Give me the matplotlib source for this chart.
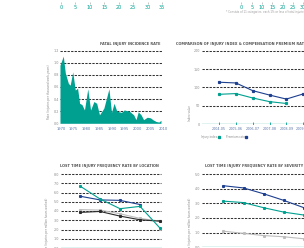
import matplotlib
matplotlib.use("Agg")
import matplotlib.pyplot as plt

W, H = 304, 248
TEAL = "#00a090"
NAVY = "#1d3f8f"
LGREY = "#bdbdbd"
DARK = "#2a2a2a"
GRID = "#333333"
LBL = "#8a8a8a"
XLBL = "#5b74a8"

# --- data -----------------------------------------------------------------
# top strip (bottom edge of two bar charts cut off by the crop)
top_left_ticks = [0, 5, 10, 15, 20, 25, 30, 35]
top_left_last_bar = 0.6
top_right_ticks = [0, 5, 10, 15, 20, 25, 30]
top_right_last_bar = 6.6
footnote = "* Consists of 11 categories, each 1% or less of total injuries"

# fatal injury incidence rate
fatal_years = [1969.6, 1970.9, 1971.7, 1972.9, 1973.6, 1974.6, 1975.6, 1976.5, 1977.3,
               1978.2, 1979.2, 1980.5, 1981.6, 1982.9, 1984.0, 1985.1, 1986.8, 1988.8,
               1989.8, 1990.8, 1991.9, 1993.7, 1994.8, 1996.8, 1998.5, 1999.4, 2000.3,
               2001.4, 2002.4, 2003.8, 2005.1, 2006.0, 2007.3, 2008.4, 2009.2]
fatal_rate = [0.96, 1.11, 0.83, 0.66, 0.63, 0.85, 0.55, 0.58, 0.33,
              0.31, 0.22, 0.57, 0.22, 0.36, 0.33, 0.14, 0.25, 0.57,
              0.18, 0.33, 0.20, 0.18, 0.22, 0.20, 0.14, 0.06, 0.19,
              0.14, 0.06, 0.10, 0.09, 0.06, 0.03, 0.02, 0.05]
fatal_ticks = [1970, 1975, 1980, 1985, 1990, 1995, 2000, 2005, 2010]

# injury index vs premium rate
years_fy = ["2004-05", "2005-06", "2006-07", "2007-08", "2008-09", "2009-10"]
injury_index = [81, 83, 71, 61, 56]
premium_rate = [114, 112, 91, 79, 68, 82]

# LTIFR by location
loc_teal = [6.7, 5.3, 4.25, 4.5, 2.15]
loc_navy = [5.6, 5.2, 5.15, 4.7]
loc_grey = [4.15, 4.1, 3.7, 3.2, 2.9]
loc_black = [3.85, 3.95, 3.45, 3.05, 2.9]

# LTIFR by severity
sev_navy = [4.2, 4.05, 3.65, 3.2, 2.7]
sev_teal = [3.15, 3.05, 2.7, 2.4, 2.2]
sev_grey = [1.1, 0.95, 0.8, 0.72, 0.58]

fig = plt.figure(figsize=(W / 100, H / 100), dpi=100)
fig.patch.set_facecolor("white")


def place(xlim, xpx, ylim, ypx):
    # xpx / ypx: pixel positions of the limits (y measured from the top)
    ax = fig.add_axes([xpx[0] / W, 1 - ypx[0] / H,
                       (xpx[1] - xpx[0]) / W, (ypx[0] - ypx[1]) / H])
    ax.set_xlim(xlim)
    ax.set_ylim(ylim)
    ax.patch.set_visible(False)
    for s in ax.spines.values():
        s.set_visible(False)
    ax.tick_params(length=0, labelsize=2.4, colors=LBL, pad=1.5)
    return ax


def grid(ax, levels, x0, x1):
    ax.hlines(levels, x0, x1, colors=GRID, linewidth=0.75,
              linestyles=(0, (2.2, 1.2)), clip_on=False, zorder=1)


def title(x, y, s):
    fig.text(x / W, 1 - y / H, s, fontsize=2.5, fontweight="bold",
             color="#555555", va="center", ha="left")


def ylab(x, y, s):
    fig.text(x / W, 1 - y / H, s, fontsize=2.0, color=LBL, rotation=90,
             va="center", ha="center")


# --- top strip ------------------------------------------------------------
ax = place((0, 35), (61, 162), (0, 1), (1.5, -10))
ax.barh([0.55], [top_left_last_bar], height=0.6, color=TEAL)
ax.set_xticks(top_left_ticks)
ax.set_yticks([])
ax.tick_params(axis="x", length=1.5, width=0.4, colors="#999999",
               labelcolor=TEAL, labelsize=3.6, pad=0.8)

ax = place((0, 30), (241.4, 303.2), (0, 1), (1.5, -10))
ax.barh([0.55], [top_right_last_bar], height=0.6, color=TEAL)
ax.set_xticks(top_right_ticks)
ax.set_yticks([])
ax.tick_params(axis="x", length=1.5, width=0.4, colors="#999999",
               labelcolor=TEAL, labelsize=3.6, pad=0.8)
fig.text(226 / W, 1 - 11.5 / H, footnote, fontsize=1.9, color="#999999", va="center")

# --- fatal injury incidence rate -----------------------------------------
x0, k = 61, 2.55
ax = place((1970, 2010), (x0, x0 + 40 * k), (0, 1.2), (123.3, 50.7))
ax.fill_between(fatal_years, fatal_rate, 0, color=TEAL, lw=0, zorder=2, clip_on=False)
grid(ax, [0.2, 0.4, 0.6, 0.8, 1.0, 1.2], 1969.5, 2009.6)
ax.set_yticks([0.0, 0.2, 0.4, 0.6, 0.8, 1.0, 1.2])
ax.set_yticklabels(["0.0", "0.2", "0.4", "0.6", "0.8", "1.0", "1.2"])
ax.set_xticks(fatal_ticks)
ax.tick_params(axis="x", labelcolor=XLBL, labelsize=2.6, pad=3)
title(100, 44, "FATAL INJURY INCIDENCE RATE")
ylab(49, 92, "Rate (injuries per thousand work-years)")

# --- comparison of injury index & premium rate ----------------------------
ax = place((-1, 6), (202.2, 320), (0, 200), (124, 50.7))
grid(ax, [50, 100, 150, 200], -1, 6)
ax.axhline(0, color=TEAL, lw=0.9, zorder=2)
ax.plot(range(len(injury_index)), injury_index, color=TEAL, lw=0.8,
        marker="s", ms=1.3, zorder=3)
ax.plot(range(len(premium_rate)), premium_rate, color=NAVY, lw=0.8,
        marker="s", ms=1.3, zorder=3)
ax.plot(range(len(years_fy)), [0] * len(years_fy), ls="none", marker="|",
        ms=2.2, mew=0.6, color=TEAL, zorder=3)
ax.set_xticks(range(len(years_fy)))
ax.set_xticklabels(years_fy)
ax.tick_params(axis="x", labelcolor=XLBL, labelsize=2.4, pad=2.5)
ax.set_yticks([0, 50, 100, 150, 200])
title(176, 44, "COMPARISON OF INJURY INDEX & COMPENSATION PREMIUM RATE")
ylab(190, 113, "Index value")
fig.text(201 / W, 1 - 137 / H, "Injury index", fontsize=2.0, color=LBL, va="center")
fig.text(226 / W, 1 - 137 / H, "Premium rate", fontsize=2.0, color=LBL, va="center")
fig.lines.append(plt.Line2D([219 / W], [1 - 137 / H], marker="s", ms=1.4,
                            color=TEAL, transform=fig.transFigure))
fig.lines.append(plt.Line2D([246 / W], [1 - 137 / H], marker="s", ms=1.4,
                            color=NAVY, transform=fig.transFigure))

# --- LTIFR by location ----------------------------------------------------
ax = place((-0.95, 4.1), (61, 162), (0, 8), (248, 174))
grid(ax, [1, 2, 3, 4, 5, 6, 7, 8], -0.95, 4.05)
ax.axhline(0, color=TEAL, lw=0.9, zorder=2)
for vals, c in [(loc_grey, LGREY), (loc_black, DARK), (loc_navy, NAVY), (loc_teal, TEAL)]:
    ax.plot(range(len(vals)), vals, color=c, lw=0.8, marker="s", ms=1.2, zorder=3)
ax.set_yticks([0, 1, 2, 3, 4, 5, 6, 7, 8])
ax.set_yticklabels(["0.0", "1.0", "2.0", "3.0", "4.0", "5.0", "6.0", "7.0", "8.0"])
ax.set_xticks([])
title(60, 166, "LOST TIME INJURY FREQUENCY RATE BY LOCATION")
ylab(47, 225, "Rate (injuries per million hours worked)")

# --- LTIFR by severity ----------------------------------------------------
ax = place((-1.06, 4.3), (202, 310), (0, 5), (247.3, 174))
grid(ax, [1, 2, 3, 4, 5], -1.06, 4.3)
ax.axhline(0, color=TEAL, lw=0.9, zorder=2)
for vals, c in [(sev_grey, LGREY), (sev_teal, TEAL), (sev_navy, NAVY)]:
    ax.plot(range(len(vals)), vals, color=c, lw=0.8, marker="s", ms=1.2, zorder=3)
ax.set_yticks([0, 1, 2, 3, 4, 5])
ax.set_yticklabels(["0.0", "1.0", "2.0", "3.0", "4.0", "5.0"])
ax.set_xticks([])
title(205, 166, "LOST TIME INJURY FREQUENCY RATE BY SEVERITY")
ylab(190, 225, "Rate (injuries per million hours worked)")

fig.savefig("out.png", dpi=100, facecolor="white")
